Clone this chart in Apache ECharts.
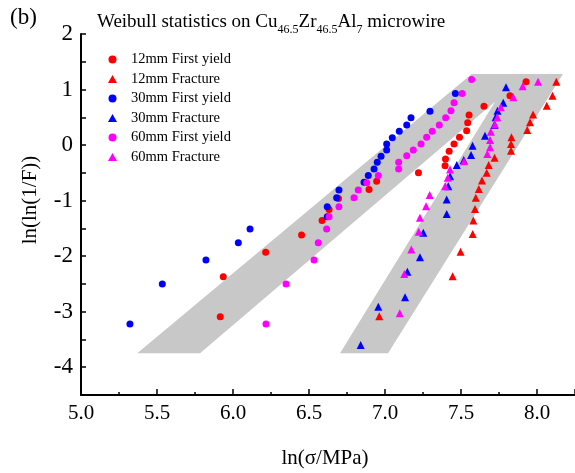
<!DOCTYPE html>
<html>
<head>
<meta charset="utf-8">
<script src="https://cdn.jsdelivr.net/npm/echarts@6/dist/echarts.min.js"></script>
<style>html,body{margin:0;padding:0;background:#fff}#c{width:575px;height:473px}</style>
</head>
<body>
<div id="c"></div>
<script>
// ---- Data ----
const y12X = [5.916,5.936,6.215,6.451,6.586,6.632,6.694,6.895,6.945,7.220,7.395,7.398,7.422,7.454,7.490,7.537,7.544,7.553,7.651,7.822,7.928];
const y12Y = [-3.09,-2.37,-1.93,-1.62,-1.36,-1.16,-0.96,-0.80,-0.65,-0.50,-0.37,-0.25,-0.11,0.02,0.14,0.26,0.40,0.54,0.70,0.89,1.14];
const f12X = [6.962,7.445,7.497,7.577,7.581,7.592,7.597,7.617,7.638,7.669,7.682,7.721,7.829,7.829,7.832,7.936,7.954,7.974,8.064,8.102,8.127];
const f12Y = [-3.08,-2.36,-1.92,-1.60,-1.36,-1.15,-0.95,-0.79,-0.64,-0.50,-0.36,-0.23,-0.10,0.02,0.14,0.27,0.41,0.55,0.71,0.89,1.14];
const y30X = [5.322,5.535,5.822,6.035,6.112,6.620,6.620,6.682,6.697,6.862,6.890,6.928,6.949,6.974,7.011,7.011,7.048,7.094,7.143,7.171,7.296,7.463];
const y30Y = [-3.22,-2.50,-2.07,-1.76,-1.51,-1.29,-1.11,-0.95,-0.81,-0.67,-0.55,-0.43,-0.31,-0.20,-0.09,0.02,0.13,0.25,0.36,0.49,0.61,0.93];
const f30X = [6.840,6.956,7.132,7.147,7.230,7.252,7.406,7.406,7.416,7.428,7.472,7.518,7.566,7.576,7.658,7.719,7.728,7.740,7.778,7.796];
const f30Y = [-3.60,-2.91,-2.74,-2.28,-2.02,-1.58,-1.24,-0.98,-0.74,-0.56,-0.36,-0.27,-0.18,-0.01,0.17,0.36,0.50,0.62,0.76,1.04];
const y60X = [6.217,6.349,6.533,6.561,6.616,6.632,6.697,6.796,6.824,6.880,6.956,7.090,7.090,7.143,7.186,7.237,7.274,7.311,7.357,7.399,7.434,7.454,7.508,7.570];
const y60Y = [-3.22,-2.50,-2.07,-1.76,-1.51,-1.29,-1.11,-0.95,-0.81,-0.68,-0.55,-0.43,-0.31,-0.19,-0.09,0.02,0.14,0.25,0.36,0.49,0.62,0.76,0.93,1.18];
const f60X = [7.097,7.127,7.173,7.222,7.230,7.270,7.294,7.396,7.413,7.428,7.520,7.673,7.691,7.691,7.696,7.724,7.739,7.762,7.844,7.906,8.007];
const f60Y = [-3.03,-2.32,-1.88,-1.56,-1.31,-1.10,-0.90,-0.74,-0.59,-0.44,-0.29,-0.16,-0.04,0.09,0.24,0.37,0.50,0.68,0.86,1.06,1.14];
// gray guide band outline (data units)
const bandX = [5.370,5.783,7.724,6.704,7.020,8.171,7.570];
const bandY = [-3.75,-3.75,0.78,-3.75,-3.75,1.28,1.28];
const seriesNames = ['12mm First yield','12mm Fracture','30mm First yield','30mm Fracture','60mm First yield','60mm Fracture'];
const xTicks = [5.0,5.5,6.0,6.5,7.0,7.5,8.0];
const yTicks = [-4,-3,-2,-1,0,1,2];

const zip = (a,b) => a.map((v,i)=>[v,b[i]]);
const SERIF = '"Liberation Serif","DejaVu Serif",serif';
const RED='#ff0000', BLUE='#0000ff', MAG='#ff00ff';

function sc(name, xs, ys, color, sym){
  return {type:'scatter', name, data:zip(xs,ys), symbol:sym,
    symbolSize: sym==='circle'?7:8, itemStyle:{color, opacity:1}, z:3};
}

const chart = echarts.init(document.getElementById('c'));
chart.setOption({
  animation:false,
  grid:{left:81,right:0,top:34,bottom:78},
  xAxis:{type:'value',min:5,max:8.25,interval:0.5,
    axisLine:{show:true,onZero:false,lineStyle:{color:'#000',width:2}},
    axisTick:{show:true,inside:true,length:6,lineStyle:{color:'#000',width:1.5}},
    minorTick:{show:true,splitNumber:2,length:3,lineStyle:{color:'#000',width:1.5}},
    axisLabel:{showMaxLabel:false,color:'#000',fontFamily:SERIF,fontSize:21,margin:8,
      formatter:v=>xTicks.some(t=>Math.abs(t-v)<1e-9)?v.toFixed(1):''},
    splitLine:{show:false}},
  yAxis:{type:'value',min:-4.5,max:2,interval:0.5,
    axisLine:{show:true,onZero:false,lineStyle:{color:'#000',width:2}},
    axisTick:{show:true,inside:true,length:5,lineStyle:{color:'#000',width:1.5}},
    axisLabel:{color:'#000',fontFamily:SERIF,fontSize:23,margin:8,
      formatter:v=>yTicks.some(t=>Math.abs(t-v)<1e-9)?String(v):''},
    splitLine:{show:false}},
  legend:{orient:'vertical',left:103,top:47,itemWidth:9,itemHeight:8,itemGap:4.5,
    data:seriesNames,
    textStyle:{fontFamily:SERIF,fontSize:14.5,color:'#000',lineHeight:14,padding:[0,0,0,9]}},
  graphic:[
    {type:'text',left:10,top:6,style:{text:'(b)',font:'23px '+SERIF,fill:'#000'}},
    {type:'text',left:97,top:13,style:{
      text:'{a|Weibull statistics on Cu}{s|46.5}{a|Zr}{s|46.5}{a|Al}{s|7}{a| microwire}',
      rich:{a:{fontFamily:SERIF,fontSize:19,fill:'#000',verticalAlign:'bottom',lineHeight:22},
            s:{fontFamily:SERIF,fontSize:12,fill:'#000',verticalAlign:'bottom',lineHeight:16,padding:[0,0,-4,0]}}}},
    {type:'text',x:325,y:458,style:{text:'ln(σ/MPa)',font:'21px '+SERIF,fill:'#000',align:'center',verticalAlign:'middle'}},
    {type:'text',x:30,y:200,rotation:Math.PI/2,style:{text:'ln(ln(1/F))',font:'21px '+SERIF,fill:'#000',align:'center',verticalAlign:'middle'}}
  ],
  series:[
    {type:'custom',silent:true,z:1,data:[[0]],
      renderItem:(params,api)=>{
        const pts = bandX.map((x,i)=>api.coord([x,bandY[i]]));
        return {type:'polygon',shape:{points:pts},style:{fill:'#c8c8c8'}};
      }},
    sc(seriesNames[0],y12X,y12Y,RED,'circle'),
    sc(seriesNames[1],f12X,f12Y,RED,'triangle'),
    sc(seriesNames[2],y30X,y30Y,BLUE,'circle'),
    sc(seriesNames[3],f30X,f30Y,BLUE,'triangle'),
    sc(seriesNames[4],y60X,y60Y,MAG,'circle'),
    sc(seriesNames[5],f60X,f60Y,MAG,'triangle')
  ]
});
</script>
</body>
</html>
